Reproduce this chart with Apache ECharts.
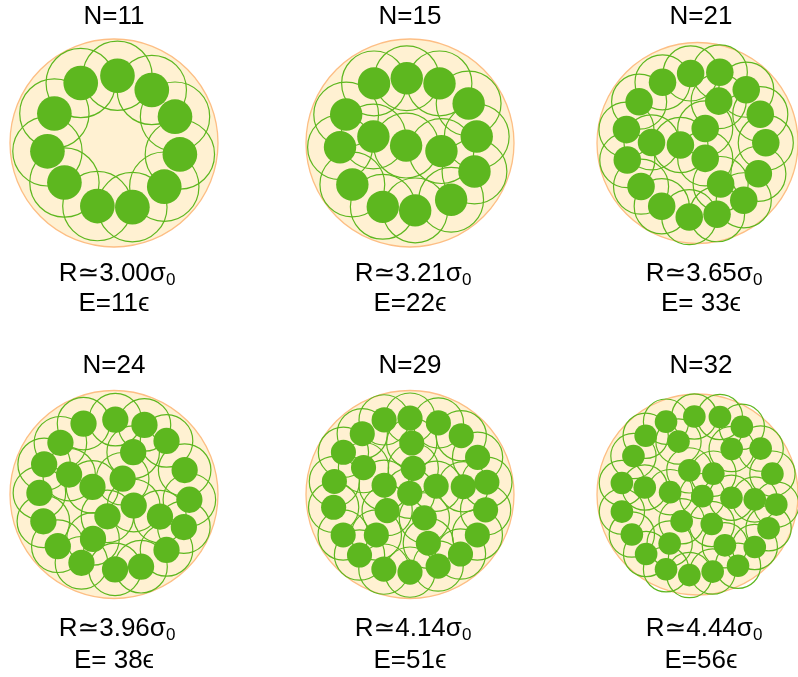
<!DOCTYPE html>
<html>
<head>
<meta charset="utf-8">
<script src="https://cdn.jsdelivr.net/npm/echarts@6/dist/echarts.min.js"></script>
<style>
  html, body { margin: 0; padding: 0; background: #ffffff; }
  #chart { width: 798px; height: 677px; }
</style>
</head>
<body>
<div id="chart"></div>
<script>
// Particle counts, cluster radii (units of sigma0) and energies for each packing
const clusterN = [11, 15, 21, 24, 29, 32];
const clusterR = [3.00, 3.21, 3.65, 3.96, 4.14, 4.44];
const radiusLabels = ['3.00', '3.21', '3.65', '3.96', '4.14', '4.44'];
const energyLabels = ['E=11\u03f5', 'E=22\u03f5', 'E= 33\u03f5', 'E= 38\u03f5', 'E=51\u03f5', 'E=56\u03f5'];

// Particle centres (x, y) in units of sigma0, relative to the cluster centre
const pos11 = [[-0.96, 1.73], [0.10, 1.94], [1.09, 1.53], [1.76, 0.76], [1.90, -0.33], [1.45, -1.26],
  [0.53, -1.85], [-0.48, -1.82], [-1.43, -1.14], [-1.92, -0.24], [-1.72, 0.85]];
const pos15 = [[-1.11, 1.84], [-0.10, 2.00], [0.91, 1.84], [1.81, 1.22], [2.06, 0.20], [1.99, -0.88],
  [1.27, -1.75], [0.16, -2.08], [-0.84, -1.97], [-1.78, -1.28], [-2.16, -0.13], [-1.97, 0.88],
  [-1.13, 0.20], [-0.12, -0.08], [0.97, -0.25]];
const pos21 = [[-1.27, 2.13], [-0.25, 2.44], [0.81, 2.48], [1.77, 1.87], [2.28, 1.01], [2.48, 0.01],
  [2.21, -1.08], [1.68, -2.01], [0.71, -2.50], [-0.30, -2.60], [-1.30, -2.22], [-2.05, -1.53],
  [-2.55, -0.60], [-2.58, 0.47], [-2.12, 1.45], [-1.67, 0.02], [-0.62, -0.07], [0.28, 0.51],
  [0.77, 1.47], [0.28, -0.54], [0.84, -1.44]];
const pos24 = [[-1.16, 2.70], [0.05, 2.85], [1.16, 2.65], [2.00, 2.04], [2.69, 0.93], [2.87, -0.20],
  [2.66, -1.24], [2.00, -2.11], [1.03, -2.75], [0.04, -2.85], [-1.24, -2.60], [-2.14, -1.97],
  [-2.69, -1.02], [-2.84, 0.06], [-2.66, 1.15], [-2.04, 1.97], [-1.71, 0.76], [-0.82, 0.29],
  [0.33, 0.60], [0.73, 1.61], [0.75, -0.42], [-0.25, -0.83], [-0.80, -1.69], [1.75, -0.84]];
const pos29 = [[-1.03, 2.97], [0.00, 3.04], [1.13, 2.85], [2.04, 2.34], [2.69, 1.48], [3.06, 0.49],
  [3.01, -0.61], [2.68, -1.61], [2.01, -2.37], [1.12, -2.85], [0.00, -3.09], [-1.04, -2.97],
  [-2.01, -2.41], [-2.66, -1.61], [-3.04, -0.51], [-3.01, 0.52], [-2.65, 1.68], [-1.90, 2.42],
  [0.07, 2.05], [-1.85, 1.07], [-1.03, 0.37], [0.13, 1.04], [-0.01, 0.05], [1.04, 0.33],
  [2.12, 0.31], [-0.91, -0.64], [-1.34, -1.61], [0.57, -0.93], [0.73, -1.94]];
const pos32 = [[-1.39, 3.11], [-0.14, 3.33], [0.99, 3.31], [1.96, 2.89], [-2.29, 2.51], [-0.84, 2.26],
  [1.51, 1.94], [2.79, 1.96], [-2.83, 1.64], [3.31, 0.89], [-0.36, 1.03], [0.70, 0.89],
  [-3.34, 0.49], [-2.33, 0.30], [-1.21, 0.10], [0.21, -0.07], [1.50, -0.14], [2.53, -0.21],
  [3.48, -0.43], [-3.34, -0.73], [-0.70, -1.14], [0.63, -1.26], [3.14, -1.44], [-2.90, -1.71],
  [-1.23, -2.09], [1.21, -2.17], [2.53, -2.24], [-2.27, -2.54], [-1.39, -3.19], [-0.36, -3.44],
  [0.67, -3.29], [1.79, -3.04]];
const clusterPositions = [pos11, pos15, pos21, pos24, pos29, pos32];

// Panel layout
const colCenters = [114, 410, 701];
const rowCenters = [143, 494.5];
const panelHalf = 104;

const GREEN = '#5db71f';
const FONT = '"Liberation Sans", Arial, "DejaVu Sans", sans-serif';

function circleRenderer(style, radiusFromValue, fixedRadius) {
  return function (params, api) {
    const c = api.coord([api.value(0), api.value(1)]);
    const rad = radiusFromValue ? api.value(2) : fixedRadius;
    const r = api.size([rad, rad])[0];
    return { type: 'circle', shape: { cx: c[0], cy: c[1], r: r }, style: style };
  };
}

const grids = [], xAxes = [], yAxes = [], series = [], texts = [];

clusterN.forEach(function (n, i) {
  const cx = colCenters[i % 3];
  const cy = rowCenters[Math.floor(i / 3)];
  const R = clusterR[i];
  grids.push({ left: cx - panelHalf, top: cy - panelHalf, width: 2 * panelHalf, height: 2 * panelHalf });
  xAxes.push({ type: 'value', gridIndex: i, min: -R, max: R, show: false });
  yAxes.push({ type: 'value', gridIndex: i, min: -R, max: R, show: false });

  // confining disk
  series.push({
    type: 'custom', xAxisIndex: i, yAxisIndex: i, silent: true, clip: false,
    renderItem: circleRenderer({ fill: '#fff1d2', stroke: '#fdbe84', lineWidth: 1.3 }, true),
    data: [[0, 0, R]]
  });
  // interaction range of each particle (radius sigma0)
  series.push({
    type: 'custom', xAxisIndex: i, yAxisIndex: i, silent: true, clip: false,
    renderItem: circleRenderer({ fill: 'none', stroke: GREEN, lineWidth: 1.2 }, false, 1.0),
    data: clusterPositions[i]
  });
  // particle cores (diameter sigma0)
  series.push({
    type: 'custom', xAxisIndex: i, yAxisIndex: i, silent: true, clip: false,
    renderItem: circleRenderer({ fill: GREEN, stroke: null }, false, 0.5),
    data: clusterPositions[i]
  });

  const titleY = i < 3 ? 17 : 366;
  const rY = i < 3 ? 274 : 629;
  const eY = i < 3 ? 304 : 661;
  texts.push({
    type: 'text', x: cx, y: titleY, silent: true,
    style: { text: 'N=' + n, font: '26px ' + FONT, fill: '#000', align: 'center', verticalAlign: 'middle' }
  });
  texts.push({
    type: 'text', x: cx + 3, y: rY, silent: true,
    style: {
      text: '{a|R\u2243' + radiusLabels[i] + '\u03c3}{s|0}',
      align: 'center', verticalAlign: 'middle',
      rich: {
        a: { fontSize: 26, fontFamily: FONT, fill: '#000', lineHeight: 30, verticalAlign: 'middle' },
        s: { fontSize: 17, fontFamily: FONT, fill: '#000', lineHeight: 30, verticalAlign: 'bottom', padding: [14, 0, 0, 0] }
      }
    }
  });
  texts.push({
    type: 'text', x: cx, y: eY, silent: true,
    style: { text: energyLabels[i], font: '26px ' + FONT, fill: '#000', align: 'center', verticalAlign: 'middle' }
  });
});

const chart = echarts.init(document.getElementById('chart'), null, { renderer: 'canvas' });
chart.setOption({
  animation: false,
  backgroundColor: '#ffffff',
  grid: grids,
  xAxis: xAxes,
  yAxis: yAxes,
  series: series,
  graphic: texts
});
</script>
</body>
</html>
